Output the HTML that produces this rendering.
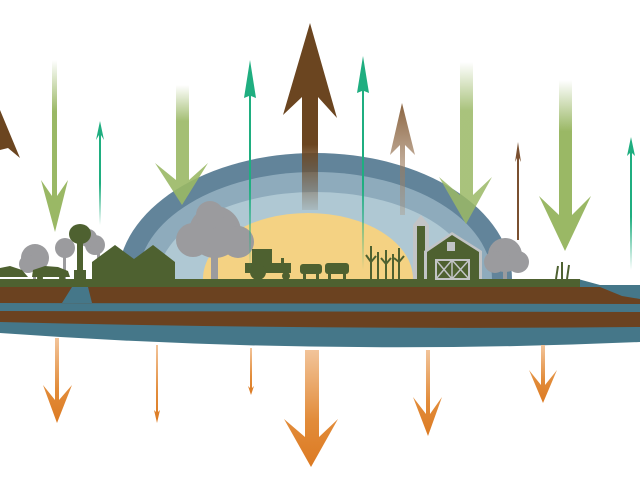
<!DOCTYPE html>
<html><head><meta charset="utf-8"><style>html,body{margin:0;padding:0;background:#fff}svg{display:block}</style></head>
<body>
<svg width="640" height="480" viewBox="0 0 640 480" xmlns="http://www.w3.org/2000/svg">
<defs>
<linearGradient id="gd" x1="0" y1="0" x2="0" y2="1"><stop offset="0" stop-color="#9ab865" stop-opacity="0"/><stop offset="0.3" stop-color="#9ab865"/><stop offset="1" stop-color="#9ab865"/></linearGradient>
<linearGradient id="br" x1="0" y1="1" x2="0" y2="0"><stop offset="0" stop-color="#6b4520" stop-opacity="0.1"/><stop offset="0.35" stop-color="#6b4520"/><stop offset="1" stop-color="#6b4520"/></linearGradient>
<linearGradient id="br2" x1="0" y1="1" x2="0" y2="0"><stop offset="0" stop-color="#a88b70" stop-opacity="0.3"/><stop offset="1" stop-color="#8b6440"/></linearGradient>
<linearGradient id="te" x1="0" y1="1" x2="0" y2="0"><stop offset="0" stop-color="#1fae80" stop-opacity="0"/><stop offset="0.4" stop-color="#1fae80"/><stop offset="1" stop-color="#1fae80"/></linearGradient>
<linearGradient id="or" x1="0" y1="0" x2="0" y2="1"><stop offset="0" stop-color="#f2c49a"/><stop offset="0.6" stop-color="#e28c3a"/><stop offset="1" stop-color="#dc7a22"/></linearGradient>
</defs>

<!-- dome -->
<path d="M118 279 A197 126 0 0 1 512 279 Z" fill="#62849a"/>
<path d="M138 279 A177 107 0 0 1 492 279 Z" fill="#8eabbc"/>
<path d="M158 279 A157 87 0 0 1 472 279 Z" fill="#afc8d3"/>
<path d="M203 279 A105 66 0 0 1 413 279 Z" fill="#f4d283"/>

<!-- ground layers -->
<path d="M0 279 L578 279 L600 285 L640 285 L640 342 Q320 356 0 333 Z" fill="#457789"/>
<path d="M0 287 L600 287 L622 296 L640 299 L640 304 L0 303 Z" fill="#6b4220"/>
<path d="M0 311 L640 312 L640 327 Q320 330 0 322 Z" fill="#6b4220"/>
<rect x="0" y="279" width="580" height="8" fill="#4e6130"/>
<path d="M72 287 L88 287 L92 303 L62 303 Z" fill="#457789"/>

<!-- trees -->
<g fill="#9b9b9e">
<circle cx="35" cy="258" r="14"/><circle cx="28" cy="264" r="9"/><rect x="33" y="262" width="3" height="17"/>
<circle cx="65" cy="248" r="10"/><circle cx="95" cy="245" r="10"/><circle cx="88" cy="238" r="9"/><rect x="63" y="250" width="3" height="29"/><rect x="97" y="250" width="3" height="29"/>
<circle cx="215" cy="232" r="26"/><circle cx="193" cy="240" r="17"/><circle cx="238" cy="242" r="16"/><circle cx="210" cy="215" r="14"/><rect x="211" y="245" width="7" height="34"/>
<circle cx="505" cy="255" r="17"/><circle cx="495" cy="262" r="11"/><circle cx="518" cy="262" r="11"/><rect x="503" y="262" width="4" height="17"/>
</g>
<!-- water tower -->
<g fill="#4e6130">
<ellipse cx="80" cy="234" rx="11" ry="10"/><rect x="77" y="240" width="6" height="40"/><rect x="74" y="270" width="12" height="9"/>
</g>
<!-- cars -->
<g fill="#4e6130">
<path d="M0 268 L10 266 L22 270 L28 277 L0 277 Z"/>
<path d="M32 277 L33 270 L45 266 L58 267 L68 271 L70 277 Z"/>
<circle cx="40" cy="278" r="3"/><circle cx="62" cy="278" r="3"/>
</g>
<!-- houses -->
<g fill="#4e6130">
<path d="M92 279 L92 262 L115 245 L134 259 L153 245 L175 262 L175 279 Z"/>
</g>
<!-- tractor -->
<g fill="#4e6130">
<rect x="252" y="249" width="20" height="15"/><rect x="245" y="263" width="46" height="10"/>
<circle cx="258" cy="272" r="8"/><circle cx="286" cy="276" r="4"/><rect x="281" y="258" width="3" height="6"/>
</g>
<!-- cows -->
<g fill="#4e6130">
<rect x="300" y="264" width="22" height="10" rx="3"/><rect x="303" y="273" width="3" height="6"/><rect x="316" y="273" width="3" height="6"/>
<rect x="325" y="263" width="24" height="11" rx="3"/><rect x="328" y="273" width="3" height="6"/><rect x="343" y="273" width="3" height="6"/>
</g>
<!-- corn -->
<g stroke="#4e6130" stroke-width="2" fill="none">
<path d="M371 279 L371 246 M378 279 L378 252 M386 279 L386 250 M393 279 L393 254 M399 279 L399 248"/>
<path d="M366 255 L371 262 L376 256 M381 258 L386 264 L391 258 M394 258 L399 262 L404 256"/>
</g>
<!-- silo & barn -->
<path d="M413 279 L413 225 L421 215 L429 225 L429 279 Z" fill="#c2c4c6"/>
<rect x="417" y="226" width="8" height="53" fill="#4e6130"/>
<path d="M424 279 L424 251 L452 232 L482 251 L482 279 Z" fill="#c2c4c6"/>
<path d="M427 279 L427 252 L452 235 L479 252 L479 279 Z" fill="#4e6130"/>
<rect x="447" y="242" width="8" height="9" fill="#c2c4c6"/>
<rect x="436" y="260" width="33" height="19" fill="none" stroke="#c2c4c6" stroke-width="2"/>
<path d="M436 260 L452 279 M452 260 L436 279 M452 260 L469 279 M469 260 L452 279 M452 260 L452 279" stroke="#c2c4c6" stroke-width="1.5"/>
<path d="M556 279 L558 266 M562 279 L562 262 M567 279 L569 265" stroke="#4e6130" stroke-width="2"/>

<!-- green down arrows -->
<g fill="url(#gd)">
<path d="M52 60 L57 60 L57 196 L68 180 L55 232 L41 180 L52 196 Z"/>
<path d="M176 85 L189 85 L189 180 L208 163 L182 205 L155 163 L176 180 Z" opacity="0.9"/>
<path d="M460 62 L473 62 L473 195 L492 177 L466 224 L439 177 L460 195 Z" opacity="0.85"/>
<path d="M559 80 L572 80 L572 215 L591 196 L565 251 L539 196 L559 215 Z"/>
</g>
<!-- teal up -->
<g fill="url(#te)">
<path d="M99 135 L96 140 L100 121 L104 140 L101 135 L101 225 L99 225 Z"/>
<path d="M249 96 L244 98 L250 60 L256 98 L251 96 L251 270 L249 270 Z"/>
<path d="M362 91 L357 93 L363 56 L369 93 L364 91 L364 270 L362 270 Z"/>
<path d="M630 153 L627 156 L631 137 L635 156 L632 153 L632 270 L630 270 Z"/>
</g>
<!-- brown up -->
<path d="M302 210 L302 97 L283 115 L310 23 L337 118 L318 97 L318 210 Z" fill="url(#br)"/>
<path d="M400 215 L400 145 L390 155 L402 103 L415 155 L405 145 L405 215 Z" fill="url(#br2)"/>
<path d="M517 240 L517 158 L515 162 L518 142 L521 162 L519 158 L519 240 Z" fill="#7a5030"/>
<path d="M0 110 L20 158 L8 148 L0 150 Z" fill="#6b4520"/>

<!-- orange down -->
<g fill="url(#or)">
<path d="M55 338 L59 338 L59 400 L72 385 L57 423 L43 385 L55 400 Z"/>
<path d="M156 345 L158 345 L158 412 L160 410 L157 423 L154 410 L156 412 Z"/>
<path d="M250 348 L252 348 L252 388 L254 386 L251 395 L248 386 L250 388 Z"/>
<path d="M305 350 L319 350 L319 437 L338 419 L311 467 L284 419 L305 437 Z"/>
<path d="M426 350 L430 350 L430 414 L442 397 L428 436 L413 397 L426 414 Z"/>
<path d="M541 345 L545 345 L545 385 L557 370 L543 403 L529 370 L541 385 Z"/>
</g>
</svg>
</body></html>
